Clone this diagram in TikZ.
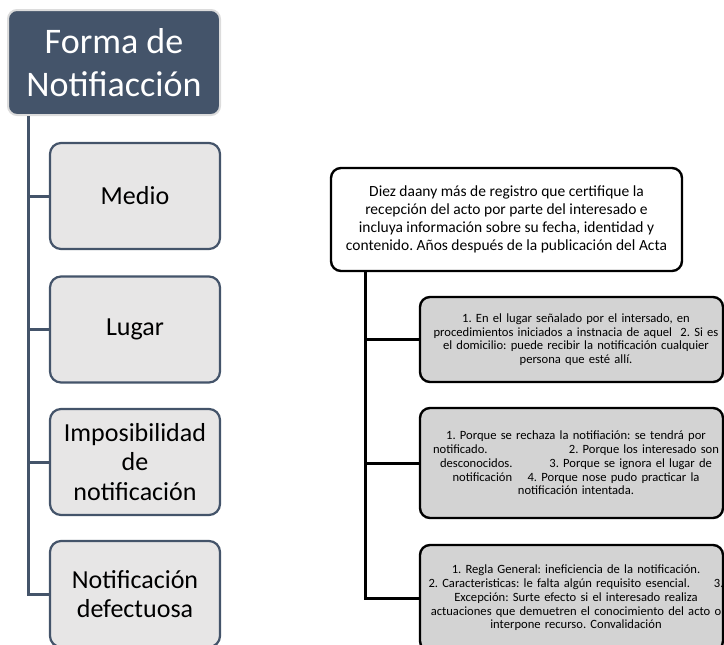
\documentclass[tikz,border=0pt]{standalone}
\usepackage{fontspec}
\setmainfont{Carlito}
\definecolor{slate}{HTML}{44546A}
\definecolor{lgray}{HTML}{E7E6E6}
\definecolor{mgray}{HTML}{D3D3D3}
\definecolor{rimgray}{HTML}{DCDCDC}
\newcommand\myline[1]{\makebox[293pt]{\hspace*{4.5pt}#1\hspace*{-4.5pt}}}
\frenchspacing
\begin{document}
\begin{tikzpicture}[x=1pt,y=-1pt,
 titlebox/.style={draw=rimgray, line width=2pt, fill=slate, rounded corners=9pt, text=white, minimum width=212pt, minimum height=105pt, align=center, font=\fontsize{36}{43}\selectfont, inner sep=0pt},
 childbox/.style={draw=slate, line width=2.2pt, fill=lgray, rounded corners=11pt, minimum width=170pt, minimum height=106pt, align=center, font=\fontsize{26}{29.5}\selectfont, inner sep=0pt},
 lconn/.style={draw=slate, line width=3pt},
 headbox/.style={draw=black, line width=2.4pt, fill=white, rounded corners=10pt, minimum width=351pt, minimum height=103pt, align=center, font=\fontsize{15.5}{17.8}\selectfont, inner sep=0pt},
 infobox/.style={draw=black, line width=2.4pt, fill=mgray, rounded corners=10pt, text width=293pt, inner xsep=5pt, inner ysep=0pt, align=center, font=\fontsize{12.6}{13.7}\selectfont},
 rconn/.style={draw=black, line width=3pt}]
\useasboundingbox (0,0) rectangle (724,645);
\clip (0,0) rectangle (724,645);
% left hierarchy
\node[titlebox] (t) at (114,62.5) {Forma de\\Notifiacción};
\node[childbox] (c1) at (135,196) {Medio};
\node[childbox] (c2) at (135,329.5) {Lugar};
\node[childbox] (c3) at (135,462) {Imposibilidad\\de\\notificación};
\node[childbox] (c4) at (135,594) {Notificación\\defectuosa};
\draw[lconn] ([xshift=21pt]t.south west) |- (c1.west);
\draw[lconn] ([xshift=21pt]t.south west) |- (c2.west);
\draw[lconn] ([xshift=21pt]t.south west) |- (c3.west);
\draw[lconn] ([xshift=21pt]t.south west) |- (c4.west);
% right hierarchy
\node[headbox] (h) at (506.5,219.5) {Diez daany más de registro que certifique la\\recepción del acto por parte del interesado e\\incluya información sobre su fecha, identidad y\\contenido. Años después de la publicación del Acta};
\node[infobox, minimum height=85pt] (r1) at (571.5,339.5) {%
\myline{1. En el lugar señalado por el intersado, en}\\
\myline{procedimientos iniciados a instnacia de aquel\ \ 2. Si es}\\
\myline{el domicilio: puede recibir la notificación cualquier}\\
\myline{persona que esté allí.}};
\node[infobox, minimum height=110pt] (r2) at (571.5,463) {%
\myline{1. Porque se rechaza la notifiación: se tendrá por}\\
\myline{\makebox[286pt]{notificado.\hfill 2. Porque los interesado son}}\\
\myline{\makebox[272pt]{desconocidos.\hfill 3. Porque se ignora el lugar de}}\\
\myline{\makebox[247pt]{notificación\hfill 4. Porque nose pudo practicar la}}\\
\myline{notificación intentada.}};
\node[infobox, minimum height=106pt] (r3) at (571.5,598) {%
\myline{1. Regla General: ineficiencia de la notificación.}\\
\myline{\makebox[295pt]{2. Caracteristicas: le falta algún requisito esencial.\hfill 3.}}\\
\myline{Excepción: Surte efecto si el interesado realiza}\\
\myline{actuaciones que demuetren el conocimiento del acto o}\\
\myline{interpone recurso. Convalidación}};
\draw[rconn] ([xshift=36pt]h.south west) |- (r1.west);
\draw[rconn] ([xshift=36pt]h.south west) |- (r2.west);
\draw[rconn] ([xshift=36pt]h.south west) |- (r3.west);
\end{tikzpicture}
\end{document}
